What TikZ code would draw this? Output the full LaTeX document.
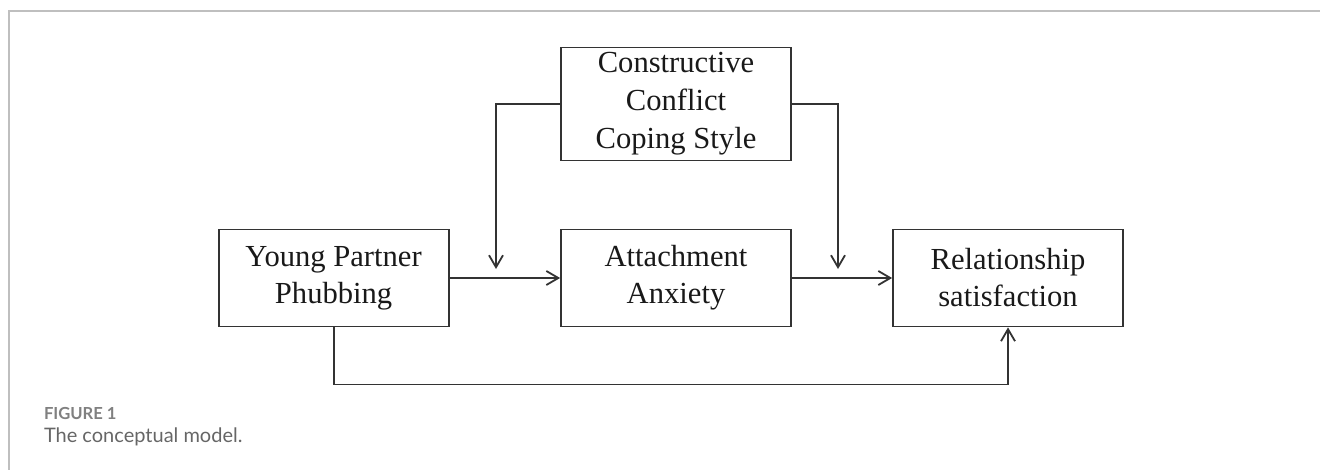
\documentclass[tikz,border=0pt]{standalone}
\usepackage{fontspec}
\setmainfont{Liberation Serif}
\newfontfamily\capfont{Lato}
\usetikzlibrary{arrows.meta,calc}
\begin{document}
\begin{tikzpicture}[x=1pt,y=1pt,
	box/.style={draw=black!80,line width=0.9pt,minimum width=115pt,minimum height=48.5pt,inner sep=0pt,align=center,text=black!90,font=\fontsize{15.3}{18.5}\selectfont},
	arr/.style={draw=black!80,line width=0.9pt,-{Straight Barb[length=6pt,width=7pt]}}]
\useasboundingbox(0,0)rectangle(660,-235);
% frame
\draw[gray!50,line width=0.8pt](4.6,-235)--(4.6,-5.5)--(660,-5.5);
% boxes
\node[box](yp)at(166.8,-139){Young Partner\\Phubbing};
\node[box](aa)at(338,-139){Attachment\\Anxiety};
\node[box](rs)at(504,-139){Relationship\\satisfaction};
\node[box,minimum height=56.5pt,font=\fontsize{15.3}{19}\selectfont](cc)at(338,-52){Constructive\\Conflict\\Coping Style};
\coordinate(m1)at(248,-134.5);
\coordinate(m2)at(419,-134.5);
% paths
\draw[arr](yp)--(aa);
\draw[arr](aa)--(rs);
\draw[arr](cc.west)-|(m1);
\draw[arr](cc.east)-|(m2);
\draw[arr](yp.south)--++(0,-28.5)-|(rs.south);
% caption
\node[anchor=base west,inner sep=0pt,text=black!50,font=\capfont\bfseries\fontsize{8.3}{10}\selectfont](fig)at(21.8,-209.8){FIGURE 1};
\node[anchor=base west,inner sep=0pt,text=black!60,font=\capfont\fontsize{10}{12}\selectfont](cap)at(21.8,-221){The conceptual model.};
\end{tikzpicture}
\end{document}
